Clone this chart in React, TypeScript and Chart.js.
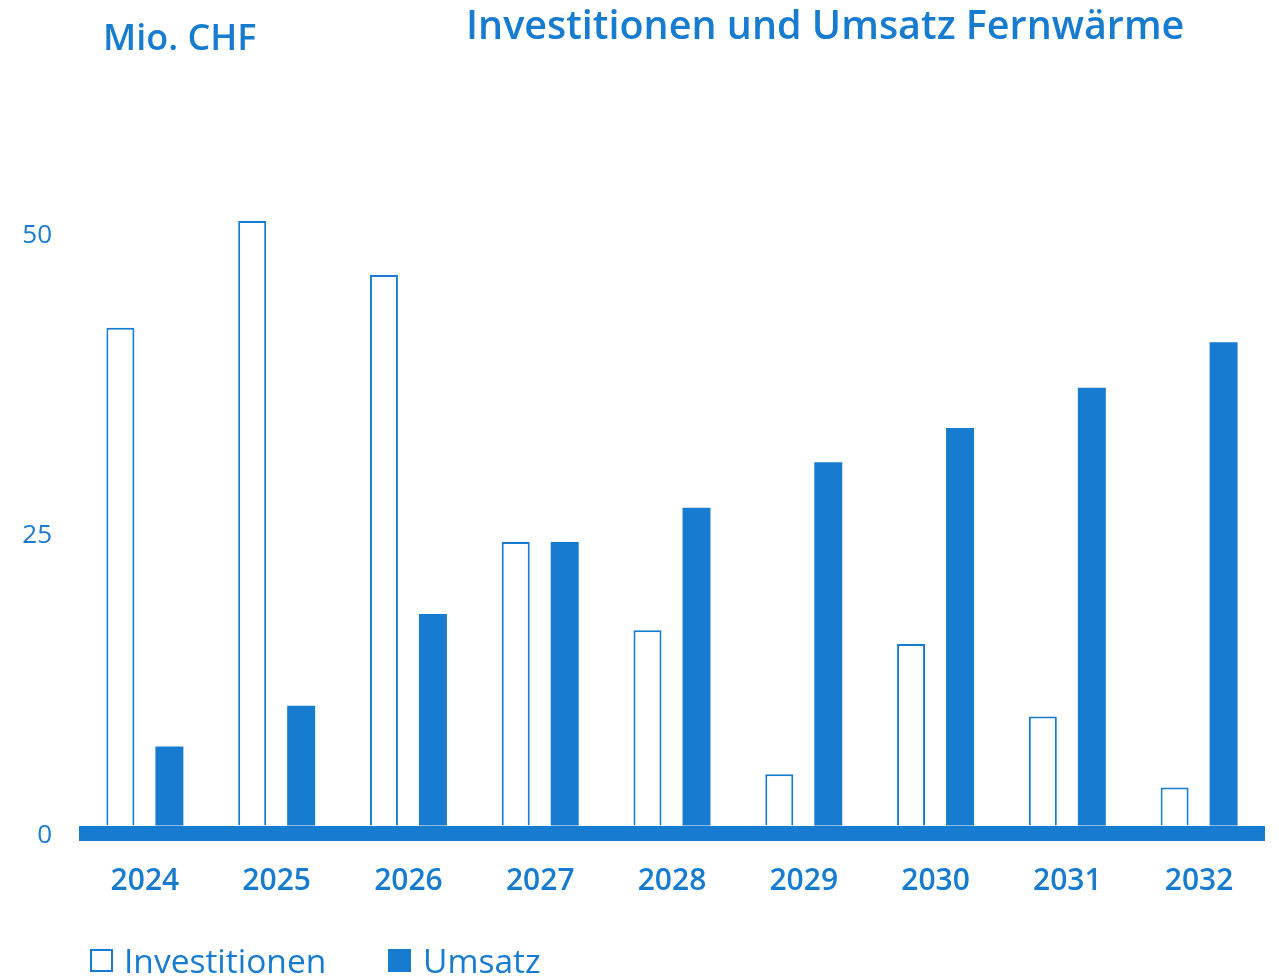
import React, { useEffect, useRef } from "react";
import { Chart, registerables } from "chart.js";

Chart.register(...registerables);

const BLUE = "#177CD0";
const FONT = "'Open Sans', 'Noto Sans', 'DejaVu Sans', sans-serif";

const years = ["2024", "2025", "2026", "2027", "2028", "2029", "2030", "2031", "2032"];
const investitionen = [42.1, 51.0, 46.5, 24.25, 16.9, 4.9, 15.75, 9.7, 3.8];
const umsatz = [7.2, 10.6, 18.25, 24.25, 27.1, 30.9, 33.75, 37.1, 40.9];
const yTicks = [0, 25, 50];

const titleText = "Investitionen und Umsatz Fernwärme";
const unitText = "Mio. CHF";
const legendLabels = ["Investitionen", "Umsatz"];

const decorPlugin = {
  id: "decor",
  afterDraw(chart: any) {
    const ctx = chart.ctx;
    ctx.save();
    ctx.fillStyle = BLUE;
    ctx.strokeStyle = BLUE;
    ctx.textBaseline = "alphabetic";
    ctx.textAlign = "left";
    ctx.font = `600 36px ${FONT}`;
    ctx.fillText(unitText, 103, 50);
    ctx.font = `600 39.5px ${FONT}`;
    ctx.fillText(titleText, 466, 39);

    // legend
    ctx.font = `400 33.5px ${FONT}`;
    ctx.lineWidth = 2;
    ctx.fillStyle = "#ffffff";
    ctx.fillRect(91, 950, 21, 21);
    ctx.strokeRect(91, 950, 21, 21);
    ctx.fillStyle = BLUE;
    ctx.fillText(legendLabels[0], 124, 973);
    ctx.fillRect(388, 949, 23, 23);
    ctx.fillText(legendLabels[1], 423, 973);
    ctx.restore();
  },
};

export default function App() {
  const ref = useRef<HTMLCanvasElement | null>(null);

  useEffect(() => {
    if (!ref.current) return;
    const chart = new Chart(ref.current, {
      type: "bar",
      data: {
        labels: years,
        datasets: [
          {
            label: legendLabels[0],
            data: investitionen,
            backgroundColor: "#ffffff",
            borderColor: BLUE,
            borderWidth: 2,
            categoryPercentage: 0.7436,
            barPercentage: 0.571,
          },
          {
            label: legendLabels[1],
            data: umsatz,
            backgroundColor: BLUE,
            borderColor: BLUE,
            borderWidth: 0,
            categoryPercentage: 0.7436,
            barPercentage: 0.571,
          },
        ],
      },
      options: {
        animation: false,
        responsive: false,
        maintainAspectRatio: false,
        layout: { padding: { left: 0, right: 14, top: 113, bottom: 84 } },
        plugins: {
          legend: { display: false },
          title: { display: false },
          tooltip: { enabled: false },
        },
        scales: {
          x: {
            grid: { display: false, drawTicks: false },
            border: { display: false },
            ticks: {
              color: BLUE,
              padding: 30,
              font: { family: FONT, size: 30, weight: "600" },
            },
            afterFit(scale: any) {
              scale.height = 60;
            },
          },
          y: {
            min: 0,
            max: 60,
            grid: {
              display: true,
              drawTicks: false,
              z: 1,
              color: BLUE,
              lineWidth: (c: any) => (c.tick && c.tick.value === 0 ? 15 : 0),
            },
            border: { display: false },
            ticks: {
              color: BLUE,
              padding: 27,
              labelOffset: 3,
              font: { family: FONT, size: 26, weight: "400" },
            },
            afterBuildTicks(scale: any) {
              scale.ticks = yTicks.map((v) => ({ value: v }));
            },
            afterFit(scale: any) {
              scale.width = 79;
            },
          },
        },
      },
      plugins: [decorPlugin],
    });
    return () => chart.destroy();
  }, []);

  return (
    <div style={{ position: "fixed", left: 0, top: 0, width: 1279, height: 977, background: "#fff" }}>
      <canvas ref={ref} width={1279} height={977} style={{ display: "block" }} />
    </div>
  );
}
